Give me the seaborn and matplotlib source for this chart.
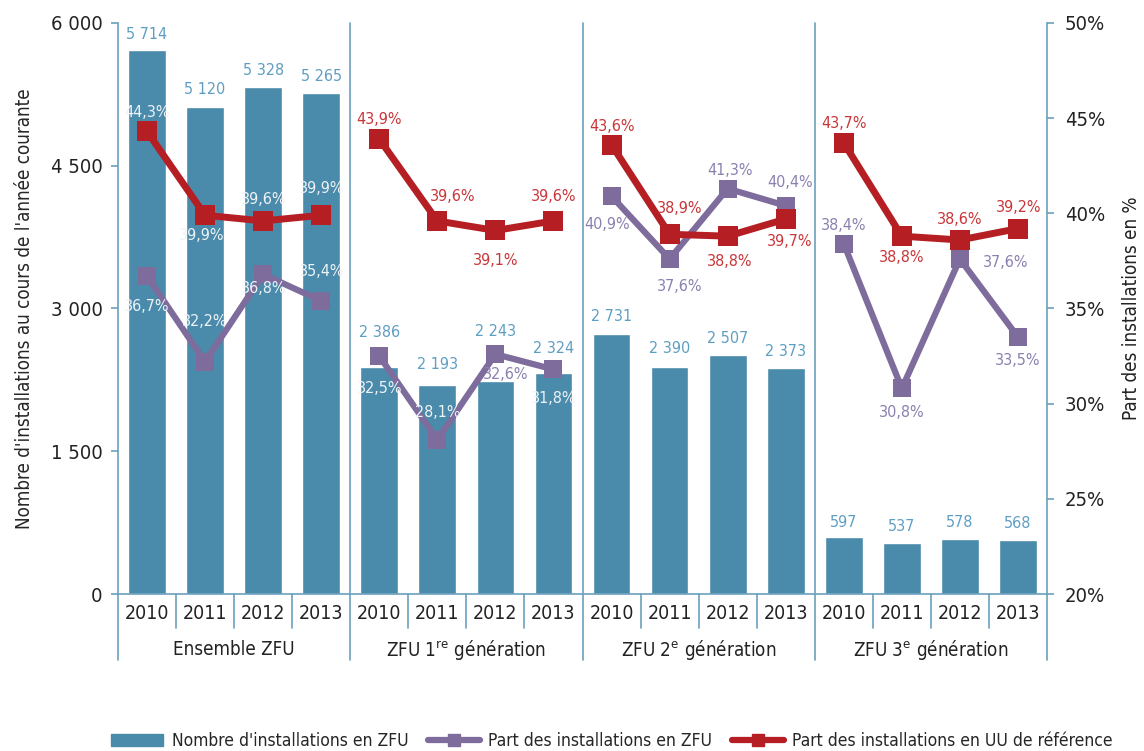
import numpy as np
import pandas as pd
import matplotlib
import matplotlib.pyplot as plt
import matplotlib.transforms as mtransforms
from matplotlib.lines import Line2D
from matplotlib.patches import Patch
import seaborn as sns

# ---- data ----
groups = ['Ensemble ZFU', r'ZFU 1$^{\mathrm{re}}$ génération',
          r'ZFU 2$^{\mathrm{e}}$ génération', r'ZFU 3$^{\mathrm{e}}$ génération']
years = ['2010', '2011', '2012', '2013']
installations = [5714, 5120, 5328, 5265,
                 2386, 2193, 2243, 2324,
                 2731, 2390, 2507, 2373,
                 597, 537, 578, 568]
part_zfu = [36.7, 32.2, 36.8, 35.4,
            32.5, 28.1, 32.6, 31.8,
            40.9, 37.6, 41.3, 40.4,
            38.4, 30.8, 37.6, 33.5]
part_uu = [44.3, 39.9, 39.6, 39.9,
           43.9, 39.6, 39.1, 39.6,
           43.6, 38.9, 38.8, 39.7,
           43.7, 38.8, 38.6, 39.2]

# ---- label placement (pixel offsets from the point) ----
bar_lbl_dy = [16, 17, 16, 16, 34, 21, 49, 24, 18, 18, 17, 17, 15, 16, 16, 16]
uu_lbl_off = [(0, 19), (-3, -20), (0, 21), (0, 27),
              (0, 20), (15, 24), (0, -30), (0, 24),
              (0, 18), (10, 26), (2, -25), (4, -22),
              (0, 19), (0, -21), (0, 20), (1, 21)]
zfu_lbl_off = [(0, -30), (0, 40), (0, -14), (0, 29),
               (0, -32), (0, 27), (10, -20), (0, -29),
               (-4, -28), (10, -27), (2, 18), (4, 23),
               (0, 18), (0, -24), (46, -3), (0, -23)]

BAR = '#4a8aaa'
BAR_TXT = '#5f9ec2'
AXIS = '#6c9fbd'
PURPLE = '#7d6c9c'
PURPLE_TXT = '#8b80b0'
RED = '#b51f24'
RED_TXT = '#c8363a'
WHITE_TXT = '#eef3f7'
TXT = '#222222'

sns.set_style('white')
plt.rcParams['font.family'] = ['Liberation Sans Narrow', 'DejaVu Sans']
plt.rcParams['font.stretch'] = 'condensed'
plt.rcParams['mathtext.fontset'] = 'custom'
plt.rcParams['mathtext.rm'] = 'DejaVu Sans:stretch=condensed'

df = pd.DataFrame({
    'key': [f'{g}-{y}' for g in range(len(groups)) for y in years],
    'n': installations,
})
pos = np.arange(len(df))

fig = plt.figure(figsize=(11.44, 7.51), dpi=100)
ax = fig.add_axes([118 / 1144, 1 - 594 / 751, 929 / 1144, 571 / 751])

sns.barplot(data=df, x='key', y='n', order=list(df['key']), color=BAR,
            width=0.65, saturation=1, ax=ax, zorder=2)
ax.set_xlim(-0.5, len(df) - 0.5)
ax.set_ylim(0, 6000)
ax.set_yticks([0, 1500, 3000, 4500, 6000])
ax.set_yticklabels(['0', '1 500', '3 000', '4 500', '6 000'], fontsize=14.5)
ax.set_xticks([])
ax.set_xlabel('')
ax.set_ylabel("Nombre d'installations au cours de l'année courante", fontsize=13.5, labelpad=12)
ax.tick_params(axis='y', length=5, color=AXIS, width=1.2, pad=6, labelcolor=TXT)
for s in ['top', 'right']:
    ax.spines[s].set_visible(False)
ax.spines['left'].set_color(AXIS)
ax.spines['bottom'].set_color(AXIS)
ax.spines['left'].set_linewidth(1.2)
ax.spines['bottom'].set_linewidth(1.2)

ax2 = ax.twinx()
ax2.set_ylim(20, 50)
ax2.set_yticks([20, 25, 30, 35, 40, 45, 50])
ax2.set_yticklabels([f'{v}%' for v in range(20, 55, 5)], fontsize=14.5)
ax2.set_ylabel('Part des installations en %', fontsize=13.5, labelpad=12, color=TXT)
ax2.tick_params(axis='y', length=5, color=AXIS, width=1.2, pad=8, labelcolor=TXT)
for s in ['top', 'left', 'bottom']:
    ax2.spines[s].set_visible(False)
ax2.spines['right'].set_color(AXIS)
ax2.spines['right'].set_linewidth(1.2)

# lines, one piece per group
for g in range(len(groups)):
    sl = slice(4 * g, 4 * g + 4)
    sns.lineplot(x=pos[sl], y=part_zfu[sl], ax=ax2, color=PURPLE, linewidth=4.5,
                 marker='s', markersize=13, markeredgewidth=0, zorder=3)
    sns.lineplot(x=pos[sl], y=part_uu[sl], ax=ax2, color=RED, linewidth=5,
                 marker='s', markersize=14, markeredgewidth=0, zorder=4)

# bar value labels
for i, v in enumerate(installations):
    ax.annotate(f'{v:,}'.replace(',', ' '), (pos[i], v), xytext=(0, bar_lbl_dy[i]),
                textcoords='offset pixels', ha='center', va='center',
                fontsize=11.5, color=BAR_TXT, zorder=5)


def pct_color(i, val, dy, base):
    # labels sitting on a bar are drawn in white
    y_cnt = (val + dy / 571 * 30 - 20) / 30 * 6000
    return WHITE_TXT if y_cnt < installations[i] - 60 else base


for i in range(len(pos)):
    dx, dy = uu_lbl_off[i]
    ax2.annotate(f'{part_uu[i]:.1f}%'.replace('.', ','), (pos[i], part_uu[i]),
                 xytext=(dx, dy), textcoords='offset pixels', ha='center', va='center',
                 fontsize=11.5, color=pct_color(i, part_uu[i], dy, RED_TXT), zorder=6)
    dx, dy = zfu_lbl_off[i]
    ax2.annotate(f'{part_zfu[i]:.1f}%'.replace('.', ','), (pos[i], part_zfu[i]),
                 xytext=(dx, dy), textcoords='offset pixels', ha='center', va='center',
                 fontsize=11.5, color=pct_color(i, part_zfu[i], dy, PURPLE_TXT), zorder=6)

# category axis below the plot
trans = mtransforms.blended_transform_factory(ax.transData, ax.transAxes)
for i in range(len(pos)):
    ax.text(pos[i], -0.035, years[i % 4], transform=trans, ha='center', va='center',
            fontsize=14, color=TXT)
    if i % 4 != 3:
        ax.plot([pos[i] + 0.5] * 2, [0, -0.06], transform=trans, color=AXIS,
                lw=1.2, clip_on=False)
for g, name in enumerate(groups):
    ax.text(4 * g + 1.5, -0.098, name, transform=trans, ha='center', va='center',
            fontsize=13.5, color=TXT)
for xb in [-0.5, 3.5, 7.5, 11.5, 15.5]:
    ax.plot([xb, xb], [1.0 if 0 < xb < 15 else 0, -0.116], transform=trans,
            color=AXIS, lw=1.2, clip_on=False, zorder=1)

handles = [Patch(color=BAR),
           Line2D([], [], color=PURPLE, lw=4.5, marker='s', markersize=9),
           Line2D([], [], color=RED, lw=4.5, marker='s', markersize=9)]
labels = ["Nombre d'installations en ZFU", 'Part des installations en ZFU',
          'Part des installations en UU de référence']
fig.legend(handles, labels, loc='lower center', bbox_to_anchor=(0.535, -0.02), ncol=3,
           frameon=False, fontsize=12.5, handlelength=3.0, columnspacing=1.1,
           handletextpad=0.5)

fig.savefig('out.png', dpi=100)
